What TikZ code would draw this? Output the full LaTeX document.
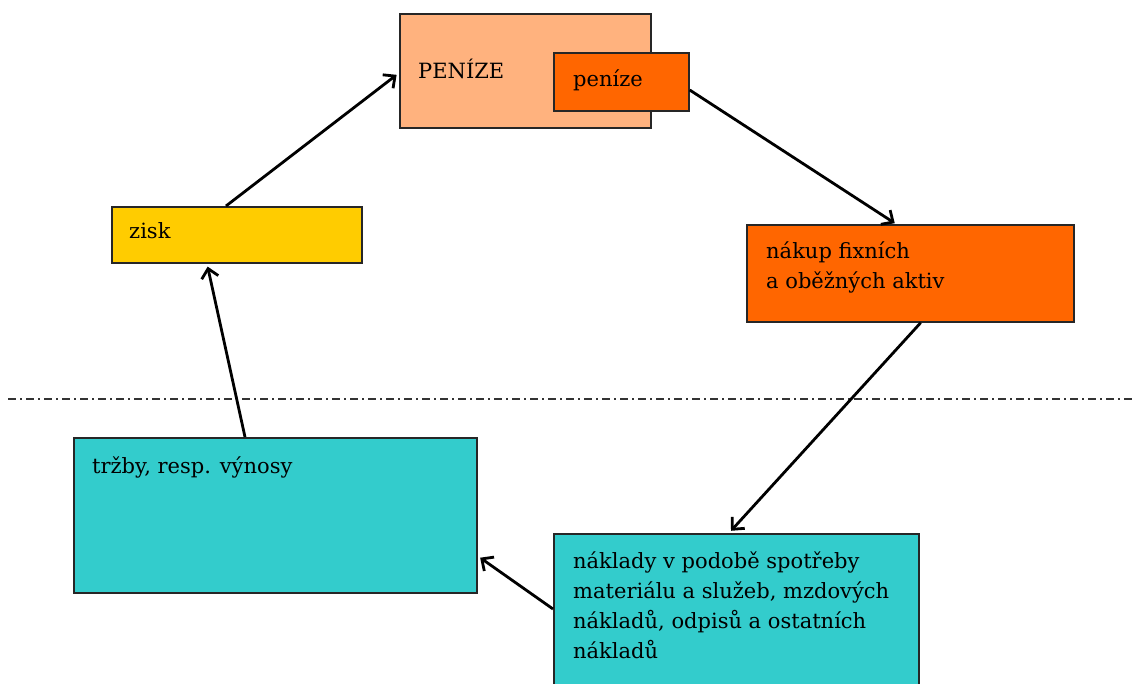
\documentclass[tikz,border=0pt]{standalone}
\usepackage{fontspec}
\setmainfont{DejaVu Serif}
\usetikzlibrary{arrows.meta}

\definecolor{salmon}{RGB}{255,178,126}
\definecolor{deeporange}{RGB}{255,102,0}
\definecolor{gold}{RGB}{255,204,0}
\definecolor{teal}{RGB}{51,204,204}

\tikzset{
  box/.style={draw=black!85, line width=1.7pt, rectangle, inner sep=0pt,
              anchor=north west},
  txt/.style={inner sep=0pt, anchor=base west, align=left,
              font=\fontsize{21pt}{30pt}\selectfont},
  flow/.style={line width=2.8pt, draw=black,
               -{Straight Barb[length=9pt,width=17pt]}},
  divider/.style={line width=1.5pt, draw=black!80,
                  dash pattern=on 8pt off 4pt on 2pt off 4pt}
}

\begin{document}
\begin{tikzpicture}[x=1pt, y=-1pt]
  \clip (0,0) rectangle (1132,684);
  \fill[white] (0,0) rectangle (1132,684);

  % horizontal divider
  \draw[divider] (8,399) -- (1132,399);

  % boxes
  \node[box, fill=salmon, minimum width=251pt, minimum height=114pt]
    (money) at (399,13) {};
  \node[box, fill=deeporange, minimum width=135pt, minimum height=58pt]
    (cash) at (553,52) {};
  \node[box, fill=gold, minimum width=250pt, minimum height=56pt]
    (profit) at (111,206) {};
  \node[box, fill=deeporange, minimum width=327pt, minimum height=97pt]
    (assets) at (746,224) {};
  \node[box, fill=teal, minimum width=403pt, minimum height=155pt]
    (revenue) at (73,437) {};
  \node[box, fill=teal, minimum width=365pt, minimum height=170pt]
    (costs) at (553,533) {};

  % labels (base west sits on the last line of a multi-line label)
  \node[txt] (moneyT) at ([shift={(19pt,-66pt)}]money.north west) {PENÍZE};
  \node[txt] (cashT) at ([shift={(20pt,-35pt)}]cash.north west) {peníze};
  \node[txt] (profitT) at ([shift={(18pt,-33pt)}]profit.north west) {zisk};
  \node[txt] (assetsT) at ([shift={(20pt,-65pt)}]assets.north west)
    {nákup fixních\\a oběžných aktiv};
  \node[txt] (revenueT) at ([shift={(19pt,-36pt)}]revenue.north west)
    {tržby, resp. výnosy};
  \node[txt] (costsT) at ([shift={(20pt,-125pt)}]costs.north west)
    {náklady v podobě spotřeby\\materiálu a služeb, mzdových\\nákladů, odpisů a ostatních\\nákladů};

  % cycle of arrows
  \draw[flow, shorten >=3pt]
    ([xshift=115pt]profit.north west) -- ([yshift=-60pt]money.north west);
  \draw[flow, shorten >=1.5pt]
    ([yshift=-38pt]cash.north east) -- ([xshift=150pt]assets.north west);
  \draw[flow, shorten >=3pt]
    ([xshift=-154pt]assets.south east) -- ([xshift=176pt]costs.north west);
  \draw[flow, shorten >=3pt]
    ([yshift=-76pt]costs.north west) -- ([yshift=-119pt]revenue.north east);
  \draw[flow, shorten >=3pt]
    ([xshift=172pt]revenue.north west) -- ([xshift=96pt]profit.south west);
\end{tikzpicture}
\end{document}
